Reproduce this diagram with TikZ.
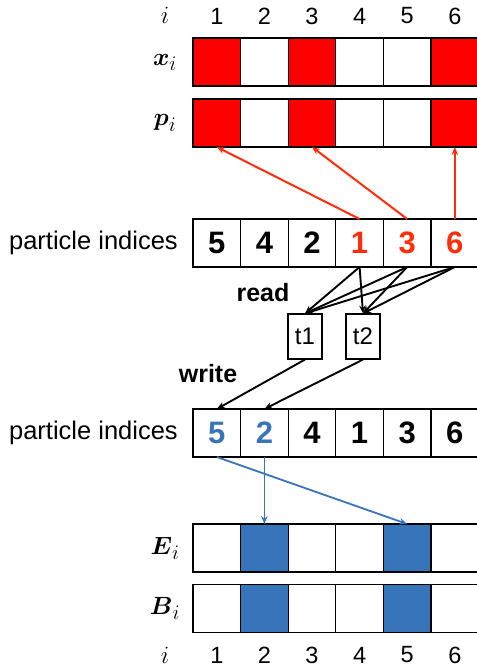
\documentclass[tikz,border=0pt]{standalone}
\usepackage{amsmath}
\usepackage{fontspec}
\setmainfont{Liberation Sans}
\usetikzlibrary{arrows.meta}
\definecolor{cred}{RGB}{255,0,0}
\definecolor{ared}{RGB}{255,45,10}
\definecolor{cblue}{RGB}{56,116,185}
\begin{document}
\begin{tikzpicture}[x=1pt,y=-1pt,
  cell/.style={draw, line width=1.3pt, minimum width=47.6pt, minimum height=48pt, inner sep=0pt, outer sep=0pt},
  bignum/.style={font=\fontsize{31}{34}\selectfont\bfseries},
  idxnum/.style={font=\fontsize{23.5}{26}\selectfont},
  lab/.style={font=\fontsize{25.5}{30}\selectfont},
  mlab/.style={font=\fontsize{28}{32}\selectfont},
  tbox/.style={draw, line width=1.1pt, minimum width=34pt, minimum height=45pt, inner sep=0pt, font=\fontsize{24}{28}\selectfont},
  redarr/.style={draw=ared, line width=2pt, -{Stealth[length=8pt,width=6.5pt]}},
  blkarr/.style={draw=black, line width=1.9pt, -{Stealth[length=8pt,width=6.5pt]}},
  bluearr/.style={draw=cblue, line width=1.8pt, -{Stealth[length=8pt,width=6.5pt]}}]
\useasboundingbox (0,0) rectangle (477,670);
% index labels
\node[mlab] (itop) at (165,15) {$i$};
\node[mlab] (ibot) at (165,655) {$i$};
\foreach \k in {1,...,6} {
  \node[idxnum] (nt\k) at ({193+47.6*(\k-0.5)},16) {\k};
  \node[idxnum] (nb\k) at ({193+47.6*(\k-0.5)},655) {\k};
}
% row labels
\node[mlab] (lx) at (165,62) {$\boldsymbol{x}_i$};
\node[mlab] (lp) at (165,123) {$\boldsymbol{p}_i$};
\node[mlab] (le) at (165,548) {$\boldsymbol{E}_i$};
\node[mlab] (lb) at (165,608.5) {$\boldsymbol{B}_i$};
\node[lab, anchor=east, inner sep=0pt] (li1) at (178,243) {particle indices};
\node[lab, anchor=east, inner sep=0pt] (li2) at (178,433) {particle indices};
% x and p rows
\foreach \f [count=\k] in {cred,white,cred,white,white,cred} {
  \node[cell, fill=\f] (x\k) at ({193+47.6*(\k-0.5)},62) {};
  \node[cell, fill=\f] (p\k) at ({193+47.6*(\k-0.5)},123) {};
}
% E and B rows
\foreach \f [count=\k] in {white,cblue,white,white,cblue,white} {
  \node[cell, fill=\f] (e\k) at ({193+47.6*(\k-0.5)},548) {};
  \node[cell, fill=\f] (b\k) at ({193+47.6*(\k-0.5)},608.5) {};
}
% particle index rows
\foreach \v/\c [count=\k] in {5/black,4/black,2/black,1/ared,3/ared,6/ared} {
  \node[cell, bignum, text=\c] (a\k) at ({193+47.6*(\k-0.5)},243) {\v};
}
\foreach \v/\c [count=\k] in {5/cblue,2/cblue,4/black,1/black,3/black,6/black} {
  \node[cell, bignum, text=\c] (c\k) at ({193+47.6*(\k-0.5)},433) {\v};
}
% threads
\node[tbox] (t1) at (305,336.5) {t1};
\node[tbox] (t2) at (363,336.5) {t2};
\node[lab, font=\fontsize{25}{30}\selectfont\bfseries] (read) at (263,293) {read};
\node[lab, font=\fontsize{25}{30}\selectfont\bfseries] (write) at (208,374) {write};
% red arrows
\draw[redarr] (a4.north) -- (p1.south);
\draw[redarr] (a5.north) -- (p3.south);
\draw[redarr] (a6.north) -- (p6.south);
% read arrows
\foreach \s in {4,5,6} {
  \draw[blkarr] (a\s.south) -- (t1.north);
  \draw[blkarr] (a\s.south) -- (t2.north);
}
% write arrows
\draw[blkarr] (t1.south) -- (c1.north);
\draw[blkarr] (t2.south) -- (c2.north);
% blue arrows
\draw[bluearr] (c1.south) -- (e5.north);
\draw[bluearr] (c2.south) -- (e2.north);
\end{tikzpicture}
\end{document}
